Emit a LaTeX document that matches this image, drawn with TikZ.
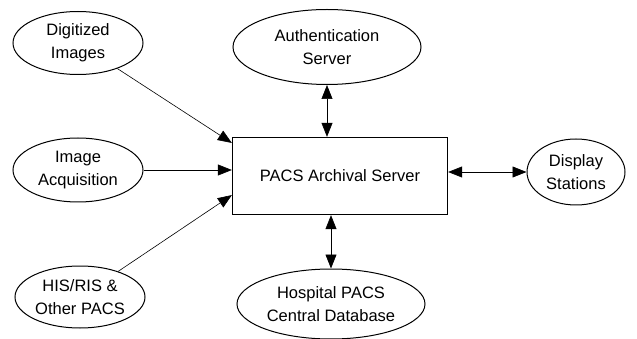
\documentclass[tikz,border=0pt]{standalone}
\usepackage{fontspec}
\setmainfont{Liberation Sans}
\usetikzlibrary{shapes.geometric}
\usetikzlibrary{arrows.meta}

\tikzset{
  blob/.style={draw, ellipse, line width=1pt, align=center, inner sep=0pt},
  archive/.style={draw, rectangle, line width=1.3pt, minimum width=215pt, minimum height=77pt},
  feed/.style={line width=0.6pt, -{Triangle[length=14pt, width=11pt]}},
  link/.style={line width=0.6pt, {Triangle[length=14pt, width=11pt]}-{Triangle[length=14pt, width=11pt]}}
}

\begin{document}
\begin{tikzpicture}[x=1pt, y=-1pt, font=\fontsize{16.5}{23}\selectfont]
      \useasboundingbox (0,0) rectangle (637,339);

      \coordinate (S) at (340,176);

      \node[archive] (pacs) at (S) {PACS Archival Server};

      \node[blob, minimum width=130pt, minimum height=63pt] (dig) at (78,43) {Digitized\\Images};
      \node[blob, minimum width=130pt, minimum height=64pt] (acq) at (78,170) {Image\\Acquisition};
      \node[blob, minimum width=130pt, minimum height=62pt] (his) at (80,297) {HIS/RIS \&\\Other PACS};
      \node[blob, minimum width=188pt, minimum height=75pt] (auth) at (327,47) {Authentication\\Server};
      \node[blob, minimum width=188pt, minimum height=70pt] (hosp) at (331,304) {Hospital PACS\\Central Database};
      \node[blob, minimum width=98pt, minimum height=66pt] (disp) at (576,172) {Display\\Stations};

      \draw[feed] (dig) -- (pacs.163);
      \draw[feed] (acq.east) -- (acq.east -| pacs.west);
      \draw[feed] (his) -- (pacs.190);

      \draw[link] (auth.south) -- (auth.south |- pacs.north);
      \draw[link] (hosp.north |- pacs.south) -- (hosp.north);
      \draw[link] (pacs.east |- disp) -- (disp.west);
    \end{tikzpicture}
\end{document}
